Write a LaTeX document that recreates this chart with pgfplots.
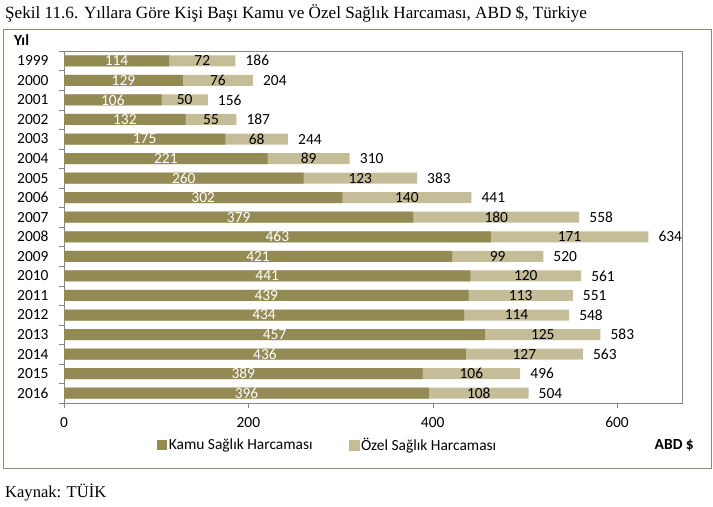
\documentclass[border=0pt]{standalone}
\usepackage{pgfplots}
\pgfplotsset{compat=1.18}
\usepackage{pgfplotstable}
\usepackage{fontspec}
\setmainfont{Carlito}
\newfontfamily\timesf{Liberation Serif}
\definecolor{kamu}{HTML}{948A54}
\definecolor{ozel}{HTML}{C4BD97}
\definecolor{axgray}{HTML}{868686}
\definecolor{framec}{HTML}{8E8B72}
\newcommand\cfont{\fontsize{15.5}{17}\selectfont}
\pgfplotstableread{
idx year kamu ozel total
0 1999 114 72 186
1 2000 129 76 204
2 2001 106 50 156
3 2002 132 55 187
4 2003 175 68 244
5 2004 221 89 310
6 2005 260 123 383
7 2006 302 140 441
8 2007 379 180 558
9 2008 463 171 634
10 2009 421 99 520
11 2010 441 120 561
12 2011 439 113 551
13 2012 434 114 548
14 2013 457 125 583
15 2014 436 127 563
16 2015 389 106 496
17 2016 396 108 504
}\data
\begin{document}
\begin{tikzpicture}
\useasboundingbox (0,0) rectangle (713bp,507bp);
\node[anchor=base west, inner sep=0, font=\timesf\fontsize{17.2}{19}\selectfont] at (5bp,488bp) {Şekil 11.6. Yıllara Göre Kişi Başı Kamu ve Özel Sağlık Harcaması, ABD \$, Türkiye};
\draw[framec, line width=0.8bp] (3.5bp,39bp) rectangle (711bp,478bp);
\node[anchor=base west, inner sep=0, font=\timesf\fontsize{16.6}{19}\selectfont] at (5bp,10bp) {Kaynak: TÜİK};
\node[anchor=west, inner sep=0, font=\bfseries\cfont] at (14bp,467bp) {Yıl};
\node[anchor=east, inner sep=0, font=\bfseries\cfont] at (694bp,62bp) {ABD \$};
\begin{axis}[
  at={(64bp,104bp)}, anchor=south west,
  width=618bp, height=352bp, scale only axis,
  xmin=0, xmax=670.5, ymin=-0.5, ymax=17.5, y dir=reverse,
  bar width=11bp,
  ytick={0,...,17}, yticklabels from table={\data}{year},
  minor ytick={-0.5,0.5,...,17.5},
  xtick={0,200,400,600},
  tick align=outside, xtick pos=bottom, ytick pos=left,
  major tick length=5bp, minor tick length=5bp,
  major y tick style={draw=none},
  minor y tick style={axgray},
  major x tick style={axgray},
  axis line style={axgray},
  tick label style={font=\cfont},
  /pgf/number format/assume math mode=true,
  yticklabel style={xshift=-7bp},
  xticklabel style={yshift=-6bp},
  clip=false,
  legend style={at={(0.150,-0.119)}, anchor=west, draw=none, fill=none, inner sep=0pt,
    font=\cfont, legend columns=2,
    /tikz/every even column/.append style={column sep=34bp},
    /tikz/every odd column/.append style={column sep=0bp}},
  legend cell align=left,
]
\addplot[xbar, bar shift=0pt, fill=ozel, draw=none, forget plot] table[x expr=\thisrow{kamu}+\thisrow{ozel}, y=idx] {\data};
\addplot[xbar, bar shift=0pt, fill=kamu, draw=none,
  legend image code/.code={\fill[kamu] (0bp,-5bp) rectangle (10bp,5bp);}] table[x=kamu, y=idx] {\data};
\addlegendentry{Kamu Sağlık Harcaması}
\addlegendimage{legend image code/.code={\fill[ozel] (0bp,-5bp) rectangle (10bp,5bp);}}
\addlegendentry{Özel Sağlık Harcaması}
% labels
\addplot[only marks, mark=*, mark size=0pt, mark options={draw=none,fill=none}, forget plot,
  point meta=explicit symbolic, nodes near coords,
  every node near coord/.append style={anchor=center, text=white, inner sep=0pt, font=\cfont}]
  table[x expr=\thisrow{kamu}/2, y=idx, meta=kamu] {\data};
\addplot[only marks, mark=*, mark size=0pt, mark options={draw=none,fill=none}, forget plot,
  point meta=explicit symbolic, nodes near coords,
  every node near coord/.append style={anchor=center, text=black, inner sep=0pt, font=\cfont}]
  table[x expr=\thisrow{kamu}+\thisrow{ozel}/2, y=idx, meta=ozel] {\data};
\addplot[only marks, mark=*, mark size=0pt, mark options={draw=none,fill=none}, forget plot,
  point meta=explicit symbolic, nodes near coords,
  every node near coord/.append style={anchor=west, xshift=10bp, text=black, inner sep=0pt, font=\cfont}]
  table[x expr=\thisrow{kamu}+\thisrow{ozel}, y=idx, meta=total] {\data};
\end{axis}
\end{tikzpicture}
\end{document}
